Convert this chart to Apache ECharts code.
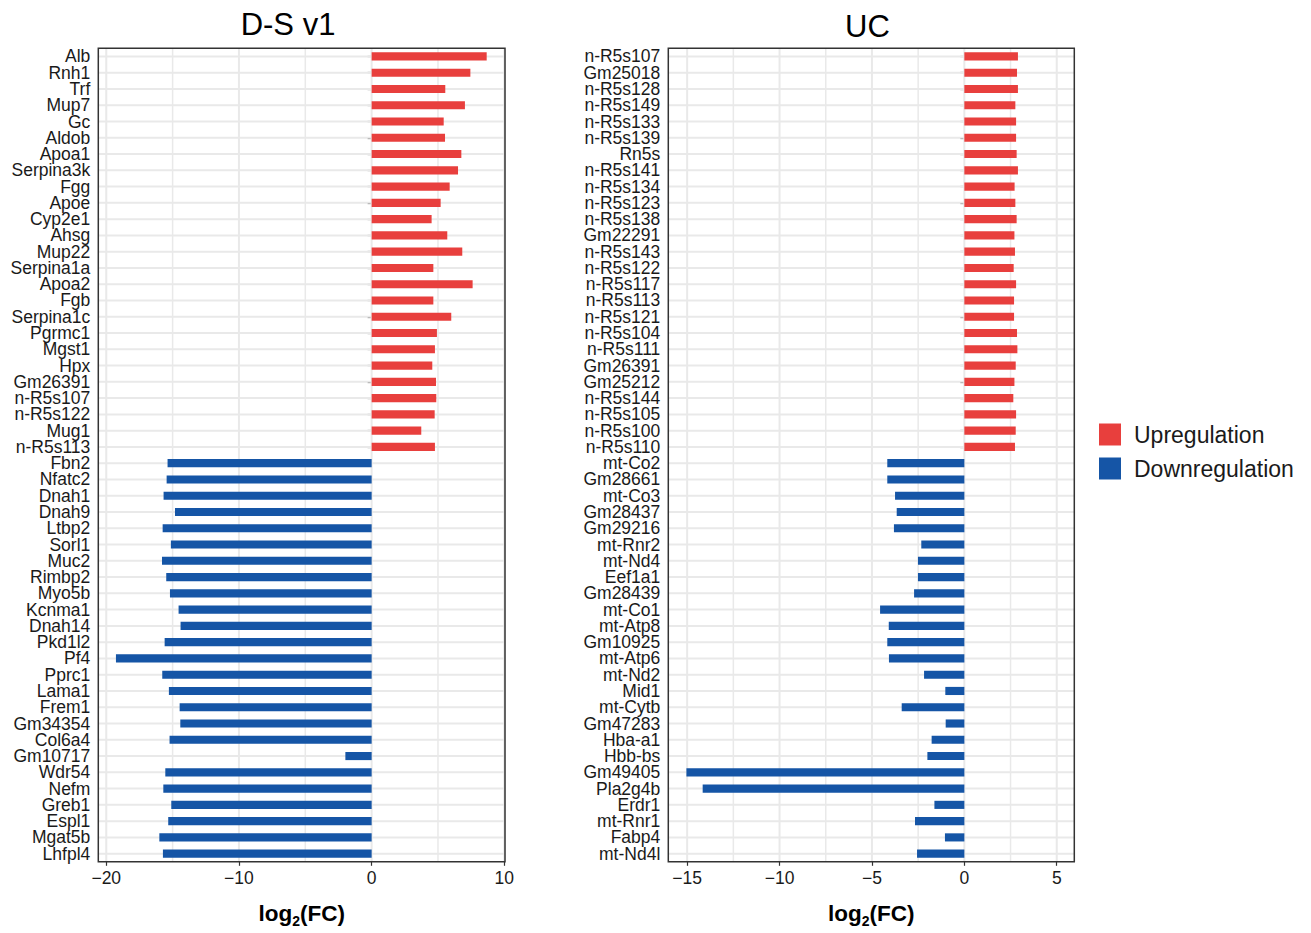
<!DOCTYPE html>
<html>
<head>
<meta charset="utf-8">
<script src="https://cdn.jsdelivr.net/npm/echarts@6/dist/echarts.min.js"></script>
<style>
html,body{margin:0;padding:0;background:#fff;}
#chart{width:1311px;height:933px;}
</style>
</head>
<body>
<div id="chart"></div>
<script>
// ---------- data ----------
const dsGenes = ['Alb','Rnh1','Trf','Mup7','Gc','Aldob','Apoa1','Serpina3k','Fgg','Apoe','Cyp2e1','Ahsg','Mup22','Serpina1a','Apoa2','Fgb','Serpina1c','Pgrmc1','Mgst1','Hpx','Gm26391','n-R5s107','n-R5s122','Mug1','n-R5s113','Fbn2','Nfatc2','Dnah1','Dnah9','Ltbp2','Sorl1','Muc2','Rimbp2','Myo5b','Kcnma1','Dnah14','Pkd1l2','Pf4','Pprc1','Lama1','Frem1','Gm34354','Col6a4','Gm10717','Wdr54','Nefm','Greb1','Espl1','Mgat5b','Lhfpl4'];
const dsValues = [8.67,7.44,5.55,7.03,5.43,5.53,6.76,6.51,5.88,5.20,4.52,5.70,6.83,4.65,7.61,4.65,6.00,4.92,4.77,4.57,4.85,4.87,4.75,3.74,4.77,
  -15.38,-15.45,-15.68,-14.82,-15.75,-15.13,-15.80,-15.48,-15.20,-14.55,-14.40,-15.60,-19.27,-15.78,-15.28,-14.47,-14.42,-15.23,-1.98,-15.55,-15.70,-15.10,-15.33,-16.00,-15.73];

const ucGenes = ['n-R5s107','Gm25018','n-R5s128','n-R5s149','n-R5s133','n-R5s139','Rn5s','n-R5s141','n-R5s134','n-R5s123','n-R5s138','Gm22291','n-R5s143','n-R5s122','n-R5s117','n-R5s113','n-R5s121','n-R5s104','n-R5s111','Gm26391','Gm25212','n-R5s144','n-R5s105','n-R5s100','n-R5s110','mt-Co2','Gm28661','mt-Co3','Gm28437','Gm29216','mt-Rnr2','mt-Nd4','Eef1a1','Gm28439','mt-Co1','mt-Atp8','Gm10925','mt-Atp6','mt-Nd2','Mid1','mt-Cytb','Gm47283','Hba-a1','Hbb-bs','Gm49405','Pla2g4b','Erdr1','mt-Rnr1','Fabp4','mt-Nd4l'];
const ucValues = [2.90,2.85,2.90,2.76,2.80,2.80,2.83,2.90,2.72,2.76,2.83,2.71,2.74,2.67,2.80,2.69,2.69,2.85,2.87,2.78,2.71,2.65,2.80,2.78,2.74,
  -4.17,-4.17,-3.75,-3.66,-3.81,-2.33,-2.51,-2.51,-2.72,-4.56,-4.09,-4.17,-4.08,-2.18,-1.03,-3.39,-1.01,-1.77,-2.00,-15.04,-14.16,-1.62,-2.67,-1.05,-2.56];

const dsTicks = [-20, -10, 0, 10];
const dsGridLines = [-20, -15, -10, -5, 0, 5, 10];
const ucTicks = [-15, -10, -5, 0, 5];
const ucGridLines = [-15, -12.5, -10, -7.5, -5, -2.5, 0, 2.5, 5];

const titles = ['D-S v1', 'UC'];
const legendNames = ['Upregulation', 'Downregulation'];

// ---------- style ----------
const UP = '#E83F3D', DOWN = '#1555A6';
const FONT = '"Liberation Sans", Arial, Helvetica, sans-serif';
const GRID_COLOR = '#e9e9e9';

const chart = echarts.init(document.getElementById('chart'), null, {renderer: 'svg'});

const minus = v => String(v).replace('-', '\u2212');

function xAxisFor(idx, min, max, ticks) {
  return {
    type: 'value', gridIndex: idx, min: min, max: max,
    axisLine: {show: false},
    axisTick: {show: true, length: 4, lineStyle: {color: '#333', width: 1.2}, customValues: ticks},
    axisLabel: {customValues: ticks, formatter: minus, fontFamily: FONT, fontSize: 17.5, color: '#1a1a1a', margin: 7},
    splitLine: {show: false},
    name: 'log{sub|2}(FC)', nameLocation: 'middle', nameGap: 40,
    nameTextStyle: {fontFamily: FONT, fontSize: 22.5, fontWeight: 'bold', color: '#000',
      rich: {sub: {fontFamily: FONT, fontSize: 14, fontWeight: 'bold', color: '#000', verticalAlign: 'bottom', padding: [0, 0, -3, 0]}}}
  };
}
function yAxisFor(idx, cats) {
  return {
    type: 'category', gridIndex: idx, data: cats, inverse: true,
    axisLine: {show: false},
    axisTick: {show: true, alignWithLabel: true, interval: 0, length: 4, lineStyle: {color: '#333', width: 1.2}},
    axisLabel: {interval: 0, fontFamily: FONT, fontSize: 17.5, lineHeight: 15, color: '#1a1a1a', margin: 8},
    splitLine: {show: false}
  };
}
function hLines(idx, cats) {
  return {
    type: 'custom', xAxisIndex: idx, yAxisIndex: idx, z: 1, silent: true,
    data: cats.map(c => [0, c]), encode: {x: 0, y: 1},
    renderItem: (params, api) => {
      const cs = params.coordSys;
      const y = api.coord([0, api.value(1)])[1];
      return {type: 'line', shape: {x1: cs.x, y1: y, x2: cs.x + cs.width, y2: y},
        style: {stroke: GRID_COLOR, lineWidth: 2}};
    }
  };
}
function vLines(idx, vals, ticks) {
  return {
    type: 'custom', xAxisIndex: idx, yAxisIndex: idx, z: 1, silent: true,
    data: vals.map(v => [v, 0]), encode: {x: 0, y: 1},
    renderItem: (params, api) => {
      const cs = params.coordSys;
      const v = api.value(0);
      const x = api.coord([v, 0])[0];
      const major = ticks.indexOf(v) >= 0;
      return {type: 'line', shape: {x1: x, y1: cs.y, x2: x, y2: cs.y + cs.height},
        style: {stroke: GRID_COLOR, lineWidth: major ? 2 : 1.5}};
    }
  };
}
function bars(idx, values, up) {
  return {
    type: 'bar', name: up ? legendNames[0] : legendNames[1], xAxisIndex: idx, yAxisIndex: idx,
    z: 3, barWidth: '50%', barGap: '-100%',
    itemStyle: {color: up ? UP : DOWN},
    data: values.map(v => (up ? v > 0 : v < 0) ? v : '-')
  };
}

const option = {
  backgroundColor: '#fff',
  animation: false,
  textStyle: {fontFamily: FONT},
  grid: [
    {left: 98.3, top: 48.3, width: 406.7, height: 813.5, show: true, borderColor: '#333', borderWidth: 1.5, backgroundColor: 'transparent', z: 5},
    {left: 668.3, top: 48.3, width: 406, height: 813.5, show: true, borderColor: '#333', borderWidth: 1.5, backgroundColor: 'transparent', z: 5}
  ],
  xAxis: [xAxisFor(0, -20.6, 10.05, dsTicks), xAxisFor(1, -16.02, 5.95, ucTicks)],
  yAxis: [yAxisFor(0, dsGenes), yAxisFor(1, ucGenes)],
  legend: {
    data: legendNames, orient: 'vertical', left: 1099, top: 423, padding: 0,
    icon: 'rect', itemWidth: 22, itemHeight: 22, itemGap: 11,
    textStyle: {fontFamily: FONT, fontSize: 23, color: '#1a1a1a', padding: [0, 0, 0, 8]}
  },
  graphic: [
    {type: 'text', x: 288, y: 24.5, silent: true,
      style: {text: titles[0], font: '31px ' + FONT, fill: '#000', align: 'center', verticalAlign: 'middle', textAlign: 'center', textVerticalAlign: 'middle'}},
    {type: 'text', x: 867.5, y: 26.5, silent: true,
      style: {text: titles[1], font: '31px ' + FONT, fill: '#000', align: 'center', verticalAlign: 'middle', textAlign: 'center', textVerticalAlign: 'middle'}}
  ],
  series: [
    vLines(0, dsGridLines, dsTicks), hLines(0, dsGenes),
    vLines(1, ucGridLines, ucTicks), hLines(1, ucGenes),
    bars(0, dsValues, true), bars(0, dsValues, false),
    bars(1, ucValues, true), bars(1, ucValues, false)
  ]
};
chart.setOption(option);
</script>
</body>
</html>
